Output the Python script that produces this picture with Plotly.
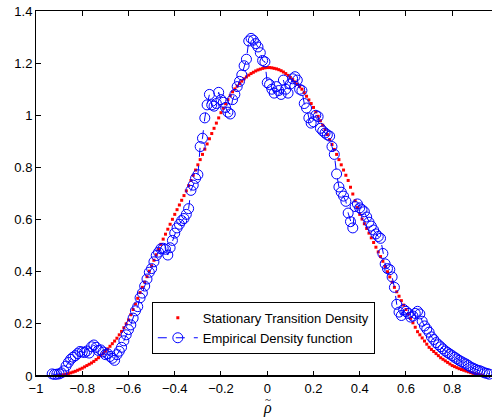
import plotly.graph_objects as go

# Stationary transition density (red dots)
rho_model = [
    -0.90, -0.89, -0.88, -0.87, -0.86, -0.85, -0.84, -0.83, -0.82, -0.81,
    -0.80, -0.79, -0.78, -0.77, -0.76, -0.75, -0.74, -0.73, -0.72, -0.71,
    -0.70, -0.69, -0.68, -0.67, -0.66, -0.65, -0.64, -0.63, -0.62, -0.61,
    -0.60, -0.59, -0.58, -0.57, -0.56, -0.55, -0.54, -0.53, -0.52, -0.51,
    -0.50, -0.49, -0.48, -0.47, -0.46, -0.45, -0.44, -0.43, -0.42, -0.41,
    -0.40, -0.39, -0.38, -0.37, -0.36, -0.35, -0.34, -0.33, -0.32, -0.31,
    -0.30, -0.29, -0.28, -0.27, -0.26, -0.25, -0.24, -0.23, -0.22, -0.21,
    -0.20, -0.19, -0.18, -0.17, -0.16, -0.15, -0.14, -0.13, -0.12, -0.11,
    -0.10, -0.09, -0.08, -0.07, -0.06, -0.05, -0.04, -0.03, -0.02, -0.01,
    0.00, 0.01, 0.02, 0.03, 0.04, 0.05, 0.06, 0.07, 0.08, 0.09,
    0.10, 0.11, 0.12, 0.13, 0.14, 0.15, 0.16, 0.17, 0.18, 0.19,
    0.20, 0.21, 0.22, 0.23, 0.24, 0.25, 0.26, 0.27, 0.28, 0.29,
    0.30, 0.31, 0.32, 0.33, 0.34, 0.35, 0.36, 0.37, 0.38, 0.39,
    0.40, 0.41, 0.42, 0.43, 0.44, 0.45, 0.46, 0.47, 0.48, 0.49,
    0.50, 0.51, 0.52, 0.53, 0.54, 0.55, 0.56, 0.57, 0.58, 0.59,
    0.60, 0.61, 0.62, 0.63, 0.64, 0.65, 0.66, 0.67, 0.68, 0.69,
    0.70, 0.71, 0.72, 0.73, 0.74, 0.75, 0.76, 0.77, 0.78, 0.79,
    0.80, 0.81, 0.82, 0.83, 0.84, 0.85, 0.86, 0.87, 0.88, 0.89,
    0.90, 0.91, 0.92, 0.93,
]
density_model = [
    0.002, 0.003, 0.005, 0.007, 0.009, 0.012, 0.015, 0.018, 0.022, 0.026,
    0.030, 0.035, 0.040, 0.045, 0.050, 0.056, 0.063, 0.070, 0.078, 0.086,
    0.095, 0.104, 0.114, 0.124, 0.134, 0.145, 0.158, 0.171, 0.185, 0.200,
    0.215, 0.235, 0.255, 0.276, 0.298, 0.320, 0.340, 0.360, 0.381, 0.402,
    0.423, 0.444, 0.465, 0.485, 0.505, 0.525, 0.544, 0.563, 0.582, 0.601,
    0.620, 0.638, 0.656, 0.674, 0.692, 0.710, 0.730, 0.750, 0.770, 0.790,
    0.810, 0.830, 0.850, 0.870, 0.890, 0.910, 0.930, 0.950, 0.970, 0.990,
    1.010, 1.027, 1.044, 1.060, 1.075, 1.090, 1.101, 1.112, 1.122, 1.131,
    1.140, 1.147, 1.154, 1.160, 1.165, 1.170, 1.174, 1.177, 1.180, 1.182,
    1.183, 1.183, 1.182, 1.180, 1.178, 1.175, 1.171, 1.166, 1.160, 1.153,
    1.145, 1.137, 1.128, 1.119, 1.110, 1.100, 1.087, 1.073, 1.059, 1.045,
    1.030, 1.013, 0.996, 0.979, 0.962, 0.945, 0.926, 0.907, 0.888, 0.869,
    0.850, 0.830, 0.810, 0.790, 0.770, 0.750, 0.724, 0.698, 0.672, 0.646,
    0.620, 0.602, 0.584, 0.566, 0.548, 0.530, 0.512, 0.494, 0.476, 0.458,
    0.440, 0.420, 0.400, 0.380, 0.360, 0.340, 0.323, 0.306, 0.289, 0.272,
    0.255, 0.238, 0.221, 0.204, 0.187, 0.170, 0.158, 0.146, 0.134, 0.122,
    0.110, 0.102, 0.094, 0.086, 0.078, 0.070, 0.064, 0.058, 0.052, 0.046,
    0.040, 0.036, 0.032, 0.028, 0.025, 0.022, 0.019, 0.016, 0.013, 0.010,
    0.008, 0.006, 0.004, 0.003,
]

# Empirical density function (blue circles)
rho_emp = [
    -0.93, -0.92, -0.91, -0.90, -0.89, -0.88, -0.87, -0.86, -0.85, -0.84,
    -0.83, -0.82, -0.81, -0.80, -0.79, -0.78, -0.77, -0.76, -0.75, -0.74,
    -0.73, -0.72, -0.71, -0.70, -0.69, -0.68, -0.67, -0.66, -0.65, -0.64,
    -0.63, -0.62, -0.61, -0.60, -0.59, -0.58, -0.57, -0.56, -0.55, -0.54,
    -0.53, -0.52, -0.51, -0.50, -0.49, -0.48, -0.47, -0.46, -0.45, -0.44,
    -0.43, -0.42, -0.41, -0.40, -0.39, -0.38, -0.37, -0.36, -0.35, -0.34,
    -0.33, -0.32, -0.31, -0.30, -0.29, -0.28, -0.27, -0.26, -0.25, -0.24,
    -0.23, -0.22, -0.21, -0.20, -0.19, -0.18, -0.17, -0.16, -0.15, -0.14,
    -0.13, -0.12, -0.11, -0.10, -0.09, -0.08, -0.07, -0.06, -0.05, -0.04,
    -0.03, -0.02, -0.01, 0.00, 0.01, 0.02, 0.03, 0.04, 0.05, 0.06,
    0.07, 0.08, 0.09, 0.10, 0.11, 0.12, 0.13, 0.14, 0.15, 0.16,
    0.17, 0.18, 0.19, 0.20, 0.21, 0.22, 0.23, 0.24, 0.25, 0.26,
    0.27, 0.28, 0.29, 0.30, 0.31, 0.32, 0.33, 0.34, 0.35, 0.36,
    0.37, 0.38, 0.39, 0.40, 0.41, 0.42, 0.43, 0.44, 0.45, 0.46,
    0.47, 0.48, 0.49, 0.50, 0.51, 0.52, 0.53, 0.54, 0.55, 0.56,
    0.57, 0.58, 0.59, 0.60, 0.61, 0.62, 0.63, 0.64, 0.65, 0.66,
    0.67, 0.68, 0.69, 0.70, 0.71, 0.72, 0.73, 0.74, 0.75, 0.76,
    0.77, 0.78, 0.79, 0.80, 0.81, 0.82, 0.83, 0.84, 0.85, 0.86,
    0.87, 0.88, 0.89, 0.90, 0.91, 0.92, 0.93, 0.94, 0.95, 0.96,
]
density_emp = [
    0.008, 0.006, 0.007, 0.008, 0.012, 0.020, 0.038, 0.052, 0.064, 0.072,
    0.078, 0.086, 0.094, 0.092, 0.090, 0.096, 0.088, 0.112, 0.119, 0.110,
    0.098, 0.100, 0.092, 0.082, 0.085, 0.075, 0.068, 0.060, 0.082, 0.095,
    0.110, 0.135, 0.158, 0.178, 0.196, 0.222, 0.250, 0.266, 0.300, 0.318,
    0.345, 0.372, 0.398, 0.412, 0.438, 0.462, 0.475, 0.488, 0.490, 0.486,
    0.464, 0.492, 0.520, 0.548, 0.568, 0.582, 0.596, 0.604, 0.620, 0.642,
    0.712, 0.732, 0.758, 0.772, 0.880, 0.912, 0.990, 1.040, 1.080, 1.040,
    1.035, 1.045, 1.088, 1.060, 1.050, 1.030, 1.012, 1.005, 1.060, 1.080,
    1.110, 1.130, 1.155, 1.190, 1.215, 1.285, 1.295, 1.288, 1.275, 1.262,
    1.240, 1.210, 1.205, 1.125, 1.118, 1.100, 1.085, 1.110, 1.095, 1.080,
    1.135, 1.100, 1.085, 1.120, 1.140, 1.148, 1.135, 1.100, 1.095, 1.045,
    1.028, 0.990, 0.970, 0.975, 1.000, 0.995, 0.950, 0.940, 0.932, 0.925,
    0.920, 0.880, 0.850, 0.775, 0.725, 0.705, 0.690, 0.670, 0.625, 0.592,
    0.568, 0.650, 0.660, 0.645, 0.638, 0.630, 0.610, 0.590, 0.575, 0.560,
    0.545, 0.535, 0.528, 0.470, 0.430, 0.412, 0.408, 0.380, 0.340, 0.275,
    0.245, 0.232, 0.255, 0.248, 0.240, 0.226, 0.230, 0.240, 0.248, 0.238,
    0.210, 0.192, 0.180, 0.168, 0.150, 0.140, 0.128, 0.120, 0.112, 0.104,
    0.096, 0.090, 0.084, 0.078, 0.072, 0.066, 0.060, 0.055, 0.050, 0.046,
    0.040, 0.034, 0.030, 0.026, 0.022, 0.020, 0.016, 0.012, 0.010, 0.007,
]

x_ticks = [-1, -0.8, -0.6, -0.4, -0.2, 0, 0.2, 0.4, 0.6, 0.8]
x_tick_text = ["\u22121", "\u22120.8", "\u22120.6", "\u22120.4", "\u22120.2", "0", "0.2", "0.4", "0.6", "0.8"]
y_ticks = [0, 0.2, 0.4, 0.6, 0.8, 1, 1.2, 1.4]
y_tick_text = ["0", "0.2", "0.4", "0.6", "0.8", "1", "1.2", "1.4"]
x_label = "\u03c1"

fig = go.Figure()
fig.add_trace(go.Scatter(
    x=rho_model, y=density_model, mode="markers",
    name="Stationary Transition Density",
    marker=dict(color="#ff0000", size=3, symbol="square", line=dict(width=0)),
    cliponaxis=False,
))
fig.add_trace(go.Scatter(
    x=rho_emp, y=density_emp, mode="lines+markers",
    name="Empirical Density function",
    line=dict(color="#0000ff", width=1, dash="dash"),
    marker=dict(symbol="circle-open", size=10, color="#0000ff", line=dict(width=1, color="#0000ff")),
    cliponaxis=False,
))

axis_font = dict(family="Liberation Sans, Arial, sans-serif", size=13, color="#000000")
fig.update_layout(
    width=492, height=420,
    margin=dict(l=36, r=0, t=11, b=44),
    paper_bgcolor="white", plot_bgcolor="white",
    showlegend=True,
    legend=dict(
        x=0.254, y=0.203, xanchor="left", yanchor="top",
        bgcolor="white", bordercolor="black", borderwidth=1,
        font=dict(family="Liberation Sans, Arial, sans-serif", size=13, color="#000000"),
        tracegroupgap=0, itemwidth=40,
    ),
    xaxis=dict(
        range=[-1, 0.972], showgrid=False, zeroline=False, automargin=False,
        showline=True, linecolor="black", linewidth=1, mirror="ticks",
        ticks="inside", ticklen=5, tickcolor="black",
        tickvals=x_ticks, ticktext=x_tick_text, tickfont=axis_font,
    ),
    yaxis=dict(
        range=[0, 1.4], showgrid=False, zeroline=False, automargin=False,
        showline=True, linecolor="black", linewidth=1, mirror=False,
        ticks="inside", ticklen=5, tickcolor="black",
        tickvals=y_ticks, ticktext=y_tick_text, tickfont=axis_font,
    ),
)
fig.add_shape(type="line", xref="paper", yref="paper", x0=0, x1=1, y0=0, y1=0,
              line=dict(color="black", width=2), layer="above")
fig.add_annotation(x=0, xref="x", y=-0.088, yref="paper", xanchor="center", yanchor="middle",
                   text="<i>" + x_label + "</i>", showarrow=False,
                   font=dict(family="Liberation Serif, Times New Roman, serif", size=16, color="black"))
fig.add_annotation(x=0.002, xref="x", y=-0.062, yref="paper", xanchor="center", yanchor="middle",
                   text="~", showarrow=False,
                   font=dict(family="Liberation Serif, Times New Roman, serif", size=11, color="black"))

fig.write_html("out.html",
               config={"displayModeBar": False},
               post_script="document.body.style.margin='0';document.body.style.overflow='hidden';")
